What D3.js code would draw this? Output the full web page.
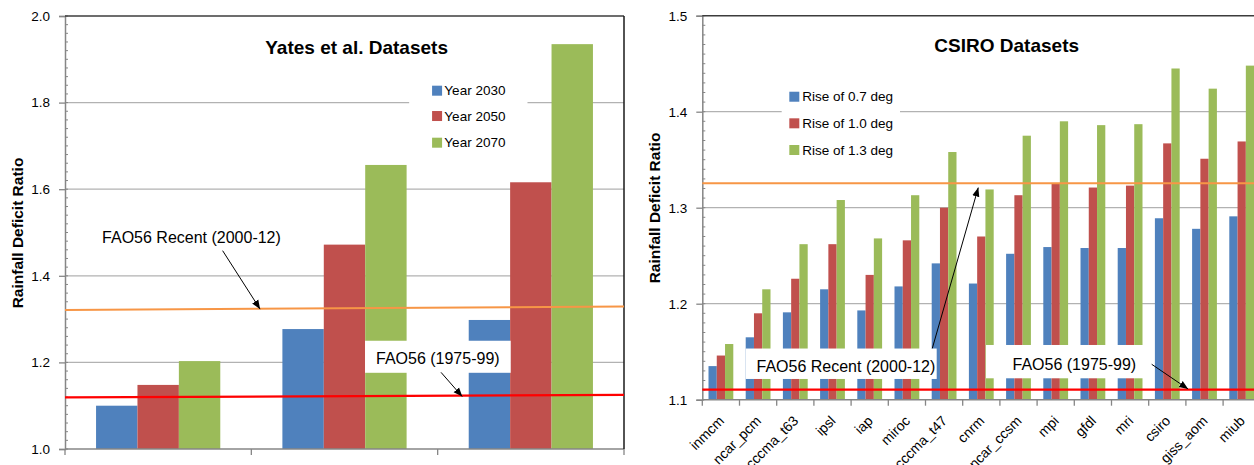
<!DOCTYPE html>
<html>
<head>
<meta charset="utf-8">
<script src="https://cdn.jsdelivr.net/npm/d3@7/dist/d3.min.js"></script>
<style>
  html, body { margin: 0; padding: 0; background: #fff; }
  svg { display: block; font-family: "Liberation Sans", Arial, sans-serif; }
</style>
</head>
<body>
<svg id="chart" width="1254" height="465"></svg>
<script>
// ---------------- DATA ----------------
// Left chart: Yates et al. datasets
const yatesGroups = ["Set 1", "Set 2", "Set 3"];
const yatesSeries = ["Year 2030", "Year 2050", "Year 2070"];
const yates2030 = [1.10, 1.277, 1.298];
const yates2050 = [1.148, 1.472, 1.616];
const yates2070 = [1.203, 1.656, 1.935];
const yatesRecentLine = [1.321, 1.329];   // FAO56 Recent (2000-12), start / end
const yatesBaseLine = [1.119, 1.125];     // FAO56 (1975-99), start / end
const yatesTicks = [1.0, 1.2, 1.4, 1.6, 1.8, 2.0];

// Right chart: CSIRO datasets
const csiroModels = ["inmcm", "ncar_pcm", "cccma_t63", "ipsl", "iap", "miroc", "cccma_t47",
  "cnrm", "ncar_ccsm", "mpi", "gfdl", "mri", "csiro", "giss_aom", "miub"];
const csiroSeries = ["Rise of 0.7 deg", "Rise of 1.0 deg", "Rise of 1.3 deg"];
const csiroRise07 = [1.135, 1.165, 1.191, 1.215, 1.193, 1.218, 1.242, 1.221, 1.252, 1.259, 1.258, 1.258, 1.289, 1.278, 1.291];
const csiroRise10 = [1.146, 1.190, 1.226, 1.262, 1.230, 1.266, 1.300, 1.270, 1.313, 1.325, 1.321, 1.323, 1.367, 1.351, 1.369];
const csiroRise13 = [1.158, 1.215, 1.262, 1.308, 1.268, 1.313, 1.358, 1.319, 1.375, 1.390, 1.386, 1.387, 1.445, 1.424, 1.448];
const csiroRecentLine = [1.3255, 1.3255];
const csiroBaseLine = [1.1105, 1.1105];
const csiroTicks = [1.1, 1.2, 1.3, 1.4, 1.5];

const seriesColors = ["#4f81bd", "#c0504d", "#9bbb59"];
const recentColor = "#f79646";
const baseColor = "#ff0000";

// ---------------- DRAW ----------------
const svg = d3.select("#chart");
const defs = svg.append("defs");
defs.append("marker").attr("id", "arrow").attr("viewBox", "0 0 10 10")
  .attr("refX", 10).attr("refY", 5).attr("markerWidth", 9).attr("markerHeight", 9)
  .attr("markerUnits", "userSpaceOnUse").attr("orient", "auto")
  .append("path").attr("d", "M0,1 L10,5 L0,9 Z").attr("fill", "#000");

function drawChart(cfg) {
  const g = svg.append("g");
  const [xL, xR] = cfg.xRange, [yB, yT] = cfg.yRange;
  const x0 = d3.scaleBand().domain(cfg.categories).range([xL, xR]).padding(0);
  const bw = x0.bandwidth();
  const x1 = d3.scaleBand().domain(cfg.series).range([bw / 6, bw * 5 / 6]).padding(0);
  const xLin = d3.scaleLinear().domain([0, cfg.categories.length]).range([xL, xR]);
  const y = d3.scaleLinear().domain(cfg.yDomain).range([yB, yT]);

  // gridlines
  g.append("g").selectAll("line").data(cfg.ticks.filter(t => t > cfg.yDomain[0] && t < cfg.yDomain[1]))
    .join("line").attr("x1", xL).attr("x2", xR).attr("y1", d => y(d)).attr("y2", d => y(d))
    .attr("stroke", "#b2b2b2").attr("stroke-width", 1.3);

  // legend background (interrupts gridlines)
  const lg = cfg.legend;
  g.append("rect").attr("x", xLin(lg.box[0])).attr("y", y(lg.box[1]))
    .attr("width", xLin(lg.box[2]) - xLin(lg.box[0])).attr("height", y(lg.box[3]) - y(lg.box[1]))
    .attr("fill", "#fff");

  // bars
  const rows = cfg.categories.map((c, i) => ({ c, vals: cfg.values.map(v => v[i]) }));
  const grp = g.append("g").selectAll("g").data(rows).join("g")
    .attr("transform", d => `translate(${x0(d.c)},0)`);
  grp.selectAll("rect").data(d => d.vals.map((v, k) => ({ k, v })))
    .join("rect")
    .attr("x", d => x1(cfg.series[d.k])).attr("width", x1.bandwidth())
    .attr("y", d => y(d.v)).attr("height", d => y(cfg.yDomain[0]) - y(d.v))
    .attr("fill", d => seriesColors[d.k]);

  // axes
  const yAxis = d3.axisLeft(y).tickValues(cfg.ticks).tickSize(6).tickPadding(cfg.tickPad)
    .tickFormat(d3.format(".1f"));
  const ya = g.append("g").attr("transform", `translate(${xL},0)`).call(yAxis);
  ya.select(".domain").attr("stroke", "#868686").attr("stroke-width", 1.5);
  ya.selectAll(".tick line").attr("stroke", "#868686").attr("stroke-width", 1.3);
  ya.selectAll("text").attr("font-size", 13.5).attr("fill", "#000");
  const minor = d3.range(Math.round(cfg.yDomain[0] / cfg.minorStep), Math.round(cfg.yDomain[1] / cfg.minorStep) + 1)
    .map(i => i * cfg.minorStep);
  g.append("g").selectAll("line").data(minor).join("line")
    .attr("x1", xL).attr("x2", xL + 3).attr("y1", d => y(d)).attr("y2", d => y(d))
    .attr("stroke", "#868686").attr("stroke-width", 1);

  const xAxisG = g.append("g").attr("transform", `translate(0,${yB})`);
  xAxisG.append("line").attr("x1", xL).attr("x2", xR).attr("stroke", "#868686").attr("stroke-width", 1.5);
  xAxisG.selectAll(".xt").data(d3.range(cfg.categories.length + 1)).join("line")
    .attr("x1", d => xLin(d)).attr("x2", d => xLin(d)).attr("y1", 0).attr("y2", 6)
    .attr("stroke", "#868686").attr("stroke-width", 1.3);
  if (cfg.showXLabels) {
    xAxisG.selectAll("text").data(cfg.categories).join("text")
      .attr("transform", d => `translate(${x0(d) + bw / 2 + 4},22) rotate(-45)`)
      .attr("text-anchor", "end").attr("font-size", 14).attr("fill", "#000").text(d => d);
  }

  // border (top / right)
  g.append("line").attr("x1", xL).attr("x2", xR).attr("y1", yT).attr("y2", yT)
    .attr("stroke", "#3c3c3c").attr("stroke-width", 1.5);
  if (cfg.rightBorder) {
    g.append("line").attr("x1", xR).attr("x2", xR).attr("y1", yT).attr("y2", yB)
      .attr("stroke", "#1a1a1a").attr("stroke-width", 1.5);
  }

  // reference lines
  const lineGen = d3.line().x(d => xLin(d[0])).y(d => y(d[1]));
  const nC = cfg.categories.length;
  g.append("path").attr("d", lineGen([[0, cfg.recentLine[0]], [nC, cfg.recentLine[1]]]))
    .attr("stroke", recentColor).attr("stroke-width", 2).attr("fill", "none");
  g.append("path").attr("d", lineGen([[0, cfg.baseLine[0]], [nC, cfg.baseLine[1]]]))
    .attr("stroke", baseColor).attr("stroke-width", 2.2).attr("fill", "none");

  // legend
  cfg.series.forEach((s, k) => {
    const cy = y(lg.rows[k]);
    g.append("rect").attr("x", xLin(lg.sq)).attr("y", cy - 5).attr("width", 10).attr("height", 10)
      .attr("fill", seriesColors[k]);
    g.append("text").attr("x", xLin(lg.tx)).attr("y", cy).attr("dy", "0.35em")
      .attr("font-size", 13.5).attr("fill", "#000").text(s);
  });

  // title
  g.append("text").attr("x", xLin(cfg.title.x)).attr("y", y(cfg.title.y))
    .attr("text-anchor", "middle").attr("font-size", 19).attr("font-weight", "bold").text(cfg.title.text);

  // y-axis title
  g.append("text").attr("transform", `translate(${cfg.yTitle[0]},${cfg.yTitle[1]}) rotate(-90)`)
    .attr("text-anchor", "middle").attr("dy", "0.35em").attr("font-size", 15.5).attr("font-weight", "bold")
    .text("Rainfall Deficit Ratio");

  // annotations
  cfg.annotations.forEach(a => {
    if (a.box) {
      g.append("rect").attr("x", xLin(a.box[0])).attr("y", y(a.box[1]))
        .attr("width", xLin(a.box[2]) - xLin(a.box[0])).attr("height", y(a.box[3]) - y(a.box[1]))
        .attr("fill", "#fff");
    }
    g.append("text").attr("x", xLin(a.text[0])).attr("y", y(a.text[1]))
      .attr("font-size", 16).attr("fill", "#000").text(a.label);
    g.append("line").attr("x1", xLin(a.arrow[0])).attr("y1", y(a.arrow[1]))
      .attr("x2", xLin(a.arrow[2])).attr("y2", y(a.arrow[3]))
      .attr("stroke", "#000").attr("stroke-width", 1).attr("marker-end", "url(#arrow)");
  });
}

drawChart({
  categories: yatesGroups, series: yatesSeries, values: [yates2030, yates2050, yates2070],
  xRange: [65, 624], yRange: [449, 16], yDomain: [1.0, 2.0], ticks: yatesTicks, minorStep: 0.02,
  tickPad: 9, showXLabels: false, rightBorder: true,
  recentLine: yatesRecentLine, baseLine: yatesBaseLine,
  legend: { box: [1.847, 1.857, 2.482, 1.679], sq: 1.970, tx: 2.036, rows: [1.8275, 1.769, 1.7074] },
  title: { text: "Yates et al. Datasets", x: 1.565, y: 1.912 },
  yTitle: [18, 233],
  annotations: [
    { label: "FAO56 Recent (2000-12)", text: [0.199, 1.475], arrow: [0.846, 1.458, 1.047, 1.323] },
    { label: "FAO56 (1975-99)", box: [1.610, 1.250, 2.392, 1.176], text: [1.669, 1.196],
      arrow: [2.018, 1.177, 2.132, 1.121] }
  ]
});

drawChart({
  categories: csiroModels, series: csiroSeries, values: [csiroRise07, csiroRise10, csiroRise13],
  xRange: [702.3, 1260.3], yRange: [399.7, 15.7], yDomain: [1.1, 1.5], ticks: csiroTicks, minorStep: 0.01,
  tickPad: 9, showXLabels: true, rightBorder: false,
  recentLine: csiroRecentLine, baseLine: csiroBaseLine,
  legend: { box: [2.134, 1.431, 5.315, 1.3466], sq: 2.339, tx: 2.688, rows: [1.4156, 1.3879, 1.3601] },
  title: { text: "CSIRO Datasets", x: 8.183, y: 1.4617 },
  yTitle: [655, 208],
  annotations: [
    { label: "FAO56 Recent (2000-12)", box: [1.167, 1.1533, 6.301, 1.1216], text: [1.457, 1.1289],
      arrow: [6.183, 1.1535, 7.419, 1.321] },
    { label: "FAO56 (1975-99)", box: [7.626, 1.157, 11.98, 1.1223], text: [8.339, 1.131],
      arrow: [12.08, 1.1369, 13.06, 1.1111] }
  ]
});
</script>
</body>
</html>
